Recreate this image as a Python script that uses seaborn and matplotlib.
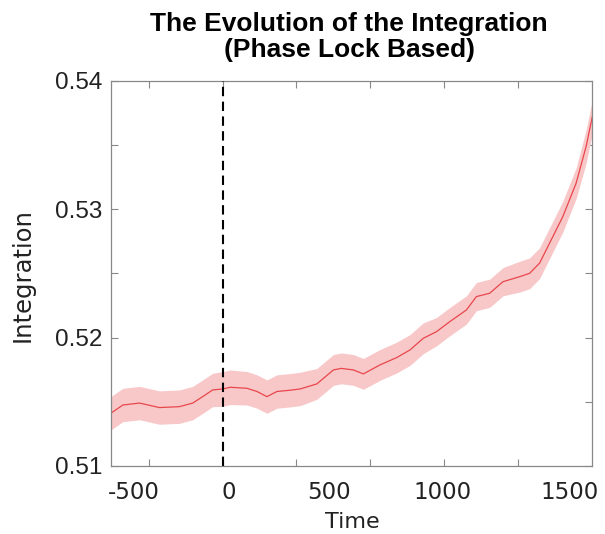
import numpy as np
import pandas as pd
import matplotlib
matplotlib.use("Agg")
import matplotlib.pyplot as plt
from matplotlib.ticker import FixedLocator, FuncFormatter
import seaborn as sns

# ---- data ----
time_ms = [-505, -450, -375, -285, -195, -135, -90, -45, 0, 35, 110, 155, 200,
           245, 305, 350, 425, 500, 535, 590, 635, 710, 785, 845, 905, 965,
           1025, 1100, 1145, 1205, 1265, 1340, 1385, 1430, 1490, 1535, 1595,
           1640, 1668]
integration_mean = [0.5141, 0.51475, 0.5149, 0.51455, 0.51462, 0.5149, 0.5154,
                    0.51592, 0.5160, 0.51613, 0.51605, 0.5158, 0.5154, 0.5158,
                    0.5159, 0.5160, 0.51639, 0.51748, 0.5176, 0.51748, 0.51717,
                    0.51787, 0.51844, 0.51903, 0.51994, 0.52046, 0.52124,
                    0.52215, 0.52319, 0.52345, 0.52435, 0.52474, 0.5250,
                    0.52579, 0.52786, 0.52942, 0.53202, 0.53487, 0.5372]
integration_err = [0.0013, 0.0013, 0.0013, 0.0013, 0.0013, 0.0013, 0.0013,
                   0.0013, 0.00135, 0.00135, 0.0013, 0.0013, 0.0013, 0.0013,
                   0.0013, 0.0013, 0.0012, 0.0012, 0.0012, 0.0012, 0.0012,
                   0.0012, 0.0012, 0.0012, 0.0012, 0.0011, 0.0011, 0.0011,
                   0.0011, 0.0011, 0.0011, 0.0012, 0.0012, 0.0012, 0.0012,
                   0.0012, 0.0012, 0.0013, 0.0013]
tick_labels = ["-500", "0", "500", "1000", "1500"]
tick_label_pos = [-400, 28, 480, 994, 1567]      # where the labels sit in the figure
tick_mark_pos = [-333.3, 0, 333.3, 666.7, 1000, 1333.3]

df = pd.DataFrame({"Time": time_ms, "Integration": integration_mean,
                   "err": integration_err})
df["lo"] = df["Integration"] - df["err"]
df["hi"] = df["Integration"] + df["err"]

# ---- figure ----
sns.set_style("white")
plt.rcParams["font.family"] = ["Liberation Sans", "DejaVu Sans"]

fig = plt.figure(figsize=(6.05, 5.34), dpi=100)
ax = fig.add_axes([110.7 / 605, 1 - 466 / 534, (592.3 - 110.7) / 605, (466 - 80.7) / 534])

line_color = "#e8464b"
ax.fill_between(df["Time"], df["lo"], df["hi"], color="#f8c8c9", lw=0, zorder=1)
sns.lineplot(data=df, x="Time", y="Integration", ax=ax, color=line_color,
             linewidth=0.9, zorder=2)
ax.axvline(0, color="black", lw=1.5, ls=(0, (4.5, 2.6)), zorder=3)

ax.set_xlim(-505, 1668)
ax.set_ylim(0.51, 0.54)
ax.set_xlabel("")
ax.set_ylabel("")

# y ticks
ax.yaxis.set_major_locator(FixedLocator(np.arange(0.51, 0.54001, 0.005)))
ax.yaxis.set_major_formatter(FuncFormatter(
    lambda v, p: f"{v:.2f}" if abs(v * 100 - round(v * 100)) < 1e-6 else ""))
ax.tick_params(axis="y", which="major", direction="in", length=5, width=0.8,
               color="#888888", left=True, right=True, pad=6,
               labelsize=17.5, labelcolor="#222222")
for lab in ax.get_yticklabels():
    lab.set_fontfamily("Liberation Sans")

# x ticks: labels (no marks) and marks (no labels)
ax.set_xticks(tick_label_pos)
ax.set_xticklabels(tick_labels, fontfamily="DejaVu Sans")
ax.xaxis.set_minor_locator(FixedLocator(tick_mark_pos))
ax.tick_params(axis="x", which="major", length=0, pad=11, labelsize=16.5,
               labelcolor="#222222", top=False)
ax.tick_params(axis="x", which="minor", direction="in", length=5, width=0.8,
               color="#888888", bottom=True, top=True)

for s in ax.spines.values():
    s.set_color("#888888")
    s.set_linewidth(0.9)
    s.set_visible(True)

# titles / labels
fig.text(349 / 605, 1 - 12 / 534, "The Evolution of the Integration\n(Phase Lock Based)",
         ha="center", va="top", fontsize=19, fontweight="bold",
         fontfamily="Liberation Sans", linespacing=1.12, color="black")
fig.text(23 / 605, 1 - 275 / 534, "Integration", rotation=90, ha="center",
         va="center", fontsize=17.5, fontfamily="DejaVu Sans", color="#222222")
fig.text(352 / 605, 1 - 528 / 534, "Time", ha="center", va="baseline",
         fontsize=16, fontfamily="DejaVu Sans", color="#222222")

fig.savefig("out.png", dpi=100)
